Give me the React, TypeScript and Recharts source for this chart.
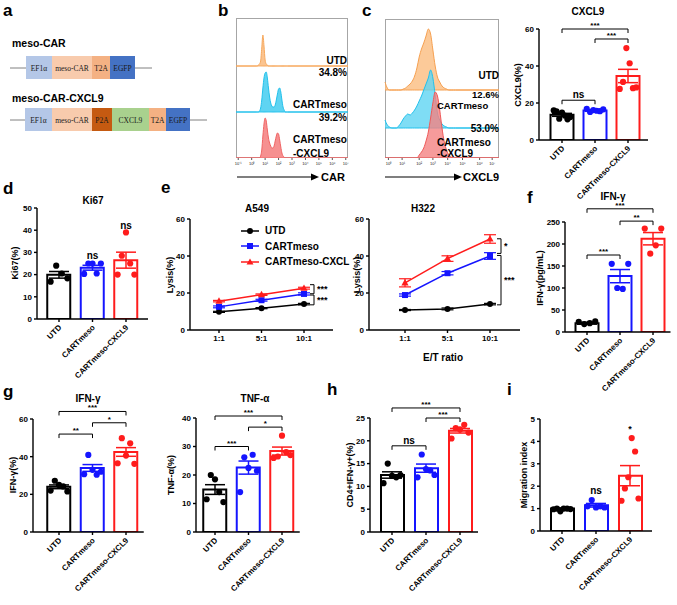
import React from 'react'
import {
  ComposedChart, Bar, Cell, Scatter, ErrorBar, XAxis, YAxis, ReferenceLine, ReferenceDot,
  LineChart, Line, AreaChart, Area, Legend,
} from 'recharts'

const FONT = '"Liberation Sans", Arial, Helvetica, sans-serif'
const SERIF = '"Liberation Serif", "Times New Roman", serif'
const INK = '#000'

const groups = ['UTD', 'CARTmeso', 'CARTmeso-CXCL9']
const groupColors = ['#000000', '#1515ff', '#ff1c1c']

// c (right): CXCL9 %
const cxcl9Mean = [13.6, 15.9, 34.6]
const cxcl9Sem = [0.8, 0.4, 3.6]
const cxcl9Dots = [
  [16, 15.5, 11.5, 14.8, 13.2, 11.2, 12.4],
  [16.8, 15.2, 16.2, 15.8, 15.6, 16.6],
  [27.6, 31.4, 49.7, 41.5, 28, 28.4],
]
const cxcl9Brackets = [
  { a: 0, b: 1, y: 21.5, text: 'ns' },
  { a: 1, b: 2, y: 54.6, text: '***' },
  { a: 0, b: 2, y: 60, text: '***' },
]

// d: Ki67
const ki67Mean = [19.9, 23.1, 26.5]
const ki67Sem = [1.5, 1.1, 3.6]
const ki67Dots = [
  [16.8, 24, 20.5, 18.3],
  [20.3, 25, 25, 20.5, 25],
  [20, 28.5, 39, 25, 20],
]
const ki67Notes = [
  { g: 1, y: 28.8, text: 'ns' },
  { g: 2, y: 42.3, text: 'ns' },
]

// e: lysis
const ratios = ['1:1', '5:1', '10:1']
const a549Utd = [9.8, 11.8, 14]
const a549Cart = [12.5, 16.1, 19.5]
const a549Cxcl = [15.6, 19.1, 22.6]
const a549UtdErr = [0.3, 0.3, 0.4]
const a549CartErr = [0.5, 0.5, 0.6]
const a549CxclErr = [0.4, 0.4, 0.5]
const a549Brackets = [
  { y1: 24.5, y2: 19.6, text: '***' },
  { y1: 18.9, y2: 13.6, text: '***' },
]
const h322Utd = [10.8, 11.4, 14]
const h322Cart = [18.9, 30.7, 40]
const h322Cxcl = [25.5, 38.6, 49.2]
const h322UtdErr = [0.3, 0.5, 0.4]
const h322CartErr = [0.6, 0.9, 1.8]
const h322CxclErr = [2.2, 1.5, 2.3]
const h322Brackets = [
  { y1: 49.3, y2: 41.4, text: '*' },
  { y1: 40.3, y2: 13.6, text: '***' },
]

// f: IFN-γ pg/mL
const ifnPgMean = [20, 127, 212]
const ifnPgSem = [2, 15, 14]
const ifnPgDots = [
  [23, 18, 20, 24],
  [155, 100, 98, 155],
  [235, 178, 197, 235],
]
const ifnPgBrackets = [
  { a: 0, b: 1, y: 175, text: '***' },
  { a: 1, b: 2, y: 252, text: '**' },
  { a: 0, b: 2, y: 280, text: '***' },
]

// g: IFN-γ %, TNF-α %
const ifnPctMean = [24, 34, 42.5]
const ifnPctSem = [1, 1.8, 2.3]
const ifnPctDots = [
  [22, 27.2, 25, 24.2, 21.5],
  [30.7, 40.9, 33, 30.4, 32],
  [36.5, 49.8, 40.6, 47.1, 36.2],
]
const ifnPctBrackets = [
  { a: 0, b: 1, y: 52, text: '**' },
  { a: 1, b: 2, y: 58, text: '*' },
  { a: 0, b: 2, y: 64, text: '***' },
]
const tnfMean = [14.9, 22.6, 28.4]
const tnfSem = [1.7, 2.3, 1.4]
const tnfDots = [
  [11.5, 20, 18.5, 14, 10.5],
  [14, 26.2, 22.5, 27.1, 21.5],
  [26, 26.5, 33.8, 28, 27],
]
const tnfBrackets = [
  { a: 0, b: 1, y: 30, text: '***' },
  { a: 1, b: 2, y: 36.8, text: '*' },
  { a: 0, b: 2, y: 40.7, text: '***' },
]

// h: CD4+IFN-γ+
const cd4Mean = [12.5, 14, 22.2]
const cd4Sem = [0.7, 0.9, 0.5]
const cd4Dots = [
  [10.7, 15, 12.3, 12, 12.5],
  [12, 17, 13.8, 13.5, 12.5],
  [20.5, 22.8, 22.5, 23.5, 21.8],
]
const cd4Brackets = [
  { a: 0, b: 1, y: 18.9, text: 'ns' },
  { a: 1, b: 2, y: 25, text: '***' },
  { a: 0, b: 2, y: 27.2, text: '***' },
]

// i: migration
const migMean = [1.0, 1.15, 2.47]
const migSem = [0.03, 0.08, 0.45]
const migDots = [
  [0.97, 1.0, 0.88, 1.0, 1.0, 0.98],
  [1.1, 1.38, 1.05, 1.1, 1.05],
  [1.35, 1.9, 2.4, 4.15, 3.55, 1.45],
]
const migNotes = [
  { g: 1, y: 1.83, text: 'ns' },
  { g: 2, y: 4.55, text: '*' },
]

// b: CAR histograms (row heights per bin)
const carBins = [0, 0.18, 0.19, 0.2, 0.21, 0.22, 0.23, 0.24, 0.25, 0.26, 0.27, 0.28, 0.29, 0.3, 0.31, 0.32,
  0.33, 0.34, 0.35, 0.36, 0.37, 0.38, 0.39, 0.4, 0.41, 0.42, 0.43, 0.44, 0.45, 0.46, 1]
const carUtd = [0, 0, 0, 1, 2, 5, 18, 31, 20, 6, 2, 1, 0, 0, 0, 0, 0, 0, 0, 0, 0, 0, 0, 0, 0, 0, 0, 0, 0, 0, 0]
const carCart = [0, 0, 0, 0, 1, 4, 12, 24, 34, 39, 40, 34, 24, 15, 9, 6, 5, 5, 7, 12, 18, 23, 24, 20, 12, 5, 2, 0, 0, 0, 0]
const carCxcl = [0, 0, 0, 0, 0, 2, 8, 22, 34, 40, 37, 28, 20, 15, 12, 10, 10, 12, 17, 22, 25, 24, 18, 11, 5, 2, 1, 0, 0, 0, 0]
const carTicks = [0.02, 0.14, 0.26, 0.38, 0.5, 0.62, 0.74, 0.86, 0.98]
const carTickLabels = ['10⁻¹', '10⁰', '10¹', '10²', '10³', '10⁴', '10⁵', '10⁶', '10⁷']

// c: CXCL9 histograms
const cxBins = [0, 0.02, 0.04, 0.06, 0.08, 0.1, 0.12, 0.14, 0.16, 0.18, 0.2, 0.22, 0.24, 0.26, 0.28, 0.3, 0.32,
  0.34, 0.36, 0.38, 0.4, 0.42, 0.44, 0.46, 0.48, 0.5, 0.52, 0.54, 0.56, 0.58, 0.6, 0.62, 0.64, 1]
const cxUtd = [8, 2, 0, 0, 0, 0, 0, 0, 1, 2, 4, 6, 9, 14, 22, 33, 41, 47, 54, 61, 56, 40, 24, 13, 8, 4, 2, 1, 0, 0, 0, 0, 0, 0]
const cxCart = [8, 3, 1, 0, 0, 0, 2, 5, 9, 12, 14, 13, 15, 18, 22, 27, 32, 38, 44, 50, 58, 50, 33, 15, 8, 4, 2, 1, 0, 0, 0, 0, 0, 0]
const cxCxcl = [0, 0, 0, 0, 0, 0, 0, 0, 0, 0, 0, 0, 0, 0, 0, 3, 6, 10, 17, 26, 40, 55, 66, 62, 48, 30, 16, 8, 3, 1, 0, 0, 0, 0]
const cxTicks = [0.03, 0.15, 0.3, 0.42, 0.55, 0.68, 0.83, 0.94]
const cxTickLabels = ['10⁰', '10¹', '10²', '10³', '10⁴', '10⁵', '10⁶', '10⁷']

// a: constructs
const construct1 = [
  { name: 'EF1α', w: 26, fill: '#b4c7e7' },
  { name: 'meso-CAR', w: 40, fill: '#f8cbad' },
  { name: 'T2A', w: 18, fill: '#f4b183' },
  { name: 'EGFP', w: 25, fill: '#4472c4' },
]
const construct2 = [
  { name: 'EF1α', w: 27, fill: '#b4c7e7' },
  { name: 'meso-CAR', w: 40, fill: '#f8cbad' },
  { name: 'P2A', w: 20, fill: '#c55a11' },
  { name: 'CXCL9', w: 37, fill: '#a9d18e' },
  { name: 'T2A', w: 17, fill: '#f4b183' },
  { name: 'EGFP', w: 24, fill: '#4472c4' },
]

const spread = (k: number, n: number) => (n < 2 ? 0 : (k / (n - 1) - 0.5) * 0.5)

const axisStyle = { stroke: INK, strokeWidth: 1.4 }
const tickFont = { fontSize: 8, fontWeight: 700, fill: INK, fontFamily: FONT }

const RotTick = (t: any) => {
  const ax = t.x + 3
  const ay = t.y + 4
  return (
    <text x={ax} y={ay} textAnchor="end" fontSize={8} fontWeight={700} fontFamily={FONT} fill={INK}
      transform={`rotate(-45 ${ax} ${ay})`}>{t.payload.value}</text>
  )
}

type Bracket = { a: number; b: number; y: number; text: string }
type Note = { g: number; y: number; text: string }

interface DotBarProps {
  left: number; top: number; axisX: number; xEnd: number; c0: number; c2: number
  y0: number; yTop: number; yMax: number; ticks: number[]
  means: number[]; sems: number[]; dots: number[][]
  brackets?: Bracket[]; notes?: Note[]
}

function DotBarPanel(p: DotBarProps) {
  const yw = 24
  const xh = 22
  const band = (p.c2 - p.c0) / 2
  const xEnd = Math.max(p.xEnd, p.c2 + band / 2 + 1)
  const padL = p.c0 - band / 2 - p.axisX
  const padR = xEnd - (p.c2 + band / 2)
  const W = xEnd + 12 - p.left
  const H = p.y0 + xh - p.top
  const margin = { top: p.yTop - p.top, right: 12, bottom: 0, left: p.axisX - p.left - yw }
  const tickLen = (4 * p.yMax) / (p.y0 - p.yTop)
  const rows = groups.map((name, i) => ({ name, mean: p.means[i] }))

  return (
    <div style={{ position: 'absolute', left: p.left, top: p.top }}>
      <ComposedChart width={W} height={H} data={rows} margin={margin}>
        <XAxis xAxisId="c" dataKey="name" type="category" padding={{ left: padL, right: padR }} height={xh}
          axisLine={axisStyle} tickLine={axisStyle} tickSize={3} tick={<RotTick />} interval={0} />
        <XAxis xAxisId="n" dataKey="x" type="number" domain={[-0.5, 2.5]} padding={{ left: padL, right: padR }}
          hide allowDataOverflow />
        <YAxis width={yw} domain={[0, p.yMax]} ticks={p.ticks} interval={0} allowDataOverflow
          axisLine={axisStyle} tickLine={axisStyle} tickSize={3} tick={tickFont} />
        <Bar xAxisId="c" dataKey="mean" barSize={23} isAnimationActive={false}>
          {rows.map((r, i) => <Cell key={r.name} fill="#fff" stroke={groupColors[i]} strokeWidth={2} />)}
        </Bar>
        {groups.map((g, i) => (
          <Scatter key={'e' + g} xAxisId="n" dataKey="y" isAnimationActive={false}
            data={[{ x: i, y: p.means[i], e: p.sems[i] }]} shape={() => <g />}>
            <ErrorBar dataKey="e" direction="y" width={10} stroke={groupColors[i]} strokeWidth={1.5} />
          </Scatter>
        ))}
        {groups.map((g, i) => (
          <Scatter key={'d' + g} xAxisId="n" dataKey="y" isAnimationActive={false}
            data={p.dots[i].map((v, k, arr) => ({ x: i + spread(k, arr.length), y: v }))}
            shape={(s: any) => <circle cx={s.cx} cy={s.cy} r={3.1} fill={groupColors[i]} />} />
        ))}
        {(p.brackets ?? []).flatMap((b, j) => {
          const ns = b.text === 'ns'
          return [
            <ReferenceLine key={`h${j}`} xAxisId="n" ifOverflow="visible" stroke={INK} strokeWidth={1}
              segment={[{ x: b.a, y: b.y }, { x: b.b, y: b.y }]}
              label={{ value: b.text, position: 'top', offset: ns ? 2 : 1, fontSize: ns ? 10 : 8,
                fontWeight: 700, fill: INK, fontFamily: FONT }} />,
            <ReferenceLine key={`l${j}`} xAxisId="n" ifOverflow="visible" stroke={INK} strokeWidth={1}
              segment={[{ x: b.a, y: b.y }, { x: b.a, y: b.y - tickLen }]} />,
            <ReferenceLine key={`r${j}`} xAxisId="n" ifOverflow="visible" stroke={INK} strokeWidth={1}
              segment={[{ x: b.b, y: b.y }, { x: b.b, y: b.y - tickLen }]} />,
          ]
        })}
        {(p.notes ?? []).map((n, j) => (
          <ReferenceDot key={`n${j}`} xAxisId="n" x={n.g} y={n.y} r={0} ifOverflow="visible" stroke="none"
            label={{ value: n.text, position: 'center', fontSize: n.text === 'ns' ? 10 : 9, fontWeight: 700,
              fill: INK, fontFamily: FONT }} />
        ))}
      </ComposedChart>
    </div>
  )
}

const circleDot = (c: string) => (s: any) => <circle key={s.index} cx={s.cx} cy={s.cy} r={3} fill={c} />
const squareDot = (c: string) => (s: any) => (
  <rect key={s.index} x={s.cx - 3} y={s.cy - 3} width={6} height={6} fill={c} />
)
const triDot = (c: string) => (s: any) => (
  <path key={s.index} d={`M${s.cx},${s.cy - 3.8}L${s.cx + 3.6},${s.cy + 2.6}L${s.cx - 3.6},${s.cy + 2.6}Z`} fill={c} />
)

const legendItems = [
  { label: 'UTD', color: groupColors[0], shape: 'c' },
  { label: 'CARTmeso', color: groupColors[1], shape: 's' },
  { label: 'CARTmeso-CXCL', color: groupColors[2], shape: 't' },
]

const LysisLegend = () => (
  <div style={{ fontFamily: FONT, fontSize: 10, fontWeight: 700 }}>
    {legendItems.map((it) => (
      <div key={it.label} style={{ display: 'flex', alignItems: 'center', height: 15.5 }}>
        <svg width={18} height={10} style={{ marginRight: 6 }}>
          <line x1={0} y1={5} x2={18} y2={5} stroke={it.color} strokeWidth={1.5} />
          {it.shape === 'c' && <circle cx={9} cy={5} r={3} fill={it.color} />}
          {it.shape === 's' && <rect x={6} y={2} width={6} height={6} fill={it.color} />}
          {it.shape === 't' && <path d="M9,1.5L12.5,7.5L5.5,7.5Z" fill={it.color} />}
        </svg>
        <span>{it.label}</span>
      </div>
    ))}
  </div>
)

interface LysisProps {
  left: number; top: number; axisX: number; xEnd: number; x0: number; x2: number
  y0: number; yTop: number; bracketX: number
  utd: number[]; cart: number[]; cxcl: number[]; eu: number[]; ec: number[]; ex: number[]
  brackets: { y1: number; y2: number; text: string }[]
  legend?: boolean
}

function LysisPanel(p: LysisProps) {
  const yw = 24
  const xh = 22
  const unitPx = (p.x2 - p.x0) / 2
  const xMin = (p.axisX - p.x0) / unitPx
  const xMax = 2 + (p.xEnd - p.x2) / unitPx
  const bx = 2 + (p.bracketX - p.x2) / unitPx
  const bt = bx - 4 / unitPx
  const W = p.xEnd + 40 - p.left
  const H = p.y0 + xh - p.top
  const margin = { top: p.yTop - p.top, right: 40, bottom: 0, left: p.axisX - p.left - yw }
  const rows = ratios.map((r, i) => ({
    i, utd: p.utd[i], cart: p.cart[i], cxcl: p.cxcl[i], eu: p.eu[i], ec: p.ec[i], ex: p.ex[i],
  }))
  return (
    <div style={{ position: 'absolute', left: p.left, top: p.top }}>
      <LineChart width={W} height={H} data={rows} margin={margin}>
        <XAxis dataKey="i" type="number" domain={[xMin, xMax]} ticks={[0, 1, 2]} allowDataOverflow
          tickFormatter={(v: number) => ratios[v]} height={xh} axisLine={axisStyle} tickLine={axisStyle}
          tickSize={3} tick={tickFont} interval={0} />
        <YAxis width={yw} domain={[0, 60]} ticks={[0, 20, 40, 60]} interval={0} allowDataOverflow
          axisLine={axisStyle} tickLine={axisStyle} tickSize={3} tick={tickFont} />
        <Line dataKey="utd" stroke={groupColors[0]} strokeWidth={1.5} dot={circleDot(groupColors[0])}
          isAnimationActive={false}>
          <ErrorBar dataKey="eu" direction="y" width={6} stroke={groupColors[0]} strokeWidth={1.2} />
        </Line>
        <Line dataKey="cart" stroke={groupColors[1]} strokeWidth={1.5} dot={squareDot(groupColors[1])}
          isAnimationActive={false}>
          <ErrorBar dataKey="ec" direction="y" width={6} stroke={groupColors[1]} strokeWidth={1.2} />
        </Line>
        <Line dataKey="cxcl" stroke={groupColors[2]} strokeWidth={1.5} dot={triDot(groupColors[2])}
          isAnimationActive={false}>
          <ErrorBar dataKey="ex" direction="y" width={6} stroke={groupColors[2]} strokeWidth={1.2} />
        </Line>
        {p.brackets.flatMap((b, j) => [
          <ReferenceLine key={`v${j}`} ifOverflow="visible" stroke={INK} strokeWidth={1}
            segment={[{ x: bx, y: b.y1 }, { x: bx, y: b.y2 }]}
            label={{ value: b.text, position: 'right', offset: 3, fontSize: 9, fontWeight: 700, fill: INK,
              fontFamily: FONT }} />,
          <ReferenceLine key={`t${j}`} ifOverflow="visible" stroke={INK} strokeWidth={1}
            segment={[{ x: bt, y: b.y1 }, { x: bx, y: b.y1 }]} />,
          <ReferenceLine key={`b${j}`} ifOverflow="visible" stroke={INK} strokeWidth={1}
            segment={[{ x: bt, y: b.y2 }, { x: bx, y: b.y2 }]} />,
        ])}
        {p.legend && (
          <Legend layout="vertical" align="center" verticalAlign="middle" content={<LysisLegend />}
            wrapperStyle={{ left: 91, top: 23, width: 'auto', height: 'auto' }} />
        )}
      </LineChart>
    </div>
  )
}

interface HistSeries { key: string; base: number; h: number[]; fill: string; stroke: string }
interface HistProps {
  left: number; top: number; width: number; height: number; yMax: number
  bins: number[]; series: HistSeries[]; ticks: number[]; tickLabels: string[]; opacity: number
}

function HistPanel(p: HistProps) {
  const xh = 10
  const rows = p.bins.map((x, i) => {
    const r: any = { x }
    p.series.forEach((s) => { r[s.key] = [s.base, s.base + s.h[i]] })
    return r
  })
  return (
    <div style={{ position: 'absolute', left: p.left, top: p.top }}>
      <div style={{ position: 'absolute', left: 0, top: 0, width: p.width, height: p.height,
        boxSizing: 'border-box', border: '1px solid #a6a6a6' }} />
      <AreaChart width={p.width} height={p.height + xh} data={rows} margin={{ top: 0, right: 0, bottom: 0, left: 0 }}>
        <XAxis dataKey="x" type="number" domain={[0, 1]} ticks={p.ticks} interval={0} height={xh}
          tickFormatter={(v: number, i: number) => p.tickLabels[i]} axisLine={false}
          tickLine={{ stroke: '#555' }} tickSize={2} tick={{ fontSize: 4, fill: '#222', fontFamily: FONT }} />
        <YAxis hide domain={[0, p.yMax]} allowDataOverflow />
        {p.series.map((s) => (
          <Area key={s.key} dataKey={s.key} type="monotone" fill={s.fill} fillOpacity={p.opacity}
            stroke={s.stroke} strokeWidth={1} dot={false} activeDot={false} isAnimationActive={false} />
        ))}
      </AreaChart>
    </div>
  )
}

const T = (props: any) => (
  <text fontFamily={FONT} fontWeight={700} fill={INK} dominantBaseline="central" {...props} />
)
const YLab = ({ x, y, children }: { x: number; y: number; children: React.ReactNode }) => (
  <T x={x} y={y} fontSize={9} textAnchor="middle" transform={`rotate(-90 ${x} ${y})`}>{children}</T>
)

function Construct({ x, y, parts }: { x: number; y: number; parts: { name: string; w: number; fill: string }[] }) {
  let cx = x
  return (
    <g>
      {parts.map((s) => {
        const sx = cx
        cx += s.w
        return (
          <g key={s.name}>
            <rect x={sx} y={y} width={s.w} height={23} fill={s.fill} />
            <text x={sx + s.w / 2} y={y + 12} textAnchor="middle" dominantBaseline="central" fontFamily={SERIF}
              fontSize={7.5} fill="#1a1a1a">{s.name}</text>
          </g>
        )
      })}
    </g>
  )
}

export default function App() {
  return (
    <div style={{ position: 'relative', width: 677, height: 605, background: '#fff', overflow: 'hidden' }}>
      <style>{'body{margin:0} .recharts-surface{overflow:visible} .recharts-wrapper{overflow:visible}'}</style>

      <HistPanel left={236} top={18} width={112} height={140} yMax={140} bins={carBins} opacity={1}
        ticks={carTicks} tickLabels={carTickLabels}
        series={[
          { key: 'utd', base: 92, h: carUtd, fill: '#fbc490', stroke: '#f7a85c' },
          { key: 'cart', base: 46, h: carCart, fill: '#5fd4f2', stroke: '#22c1ec' },
          { key: 'cxcl', base: 0, h: carCxcl, fill: '#f69090', stroke: '#f06464' },
        ]} />
      <HistPanel left={385} top={19} width={114} height={139} yMax={139} bins={cxBins} opacity={0.8}
        ticks={cxTicks} tickLabels={cxTickLabels}
        series={[
          { key: 'utd', base: 68, h: cxUtd, fill: '#fbbd80', stroke: '#f6a050' },
          { key: 'cart', base: 30, h: cxCart, fill: '#5fd4f2', stroke: '#22c1ec' },
          { key: 'cxcl', base: 0, h: cxCxcl, fill: '#f48282', stroke: '#ef5a5a' },
        ]} />

      <DotBarPanel left={490} top={0} axisX={539} xEnd={648} c0={562} c2={628} y0={140} yTop={29}
        yMax={60} ticks={[0, 20, 40, 60]} means={cxcl9Mean} sems={cxcl9Sem} dots={cxcl9Dots}
        brackets={cxcl9Brackets} />
      <DotBarPanel left={0} top={180} axisX={37} xEnd={148} c0={59} c2={126} y0={319} yTop={208}
        yMax={50} ticks={[0, 10, 20, 30, 40, 50]} means={ki67Mean} sems={ki67Sem} dots={ki67Dots}
        notes={ki67Notes} />
      <LysisPanel left={150} top={200} axisX={190} xEnd={333} x0={219} x2={304} y0={330} yTop={219}
        bracketX={314} utd={a549Utd} cart={a549Cart} cxcl={a549Cxcl} eu={a549UtdErr} ec={a549CartErr}
        ex={a549CxclErr} brackets={a549Brackets} legend />
      <LysisPanel left={330} top={200} axisX={369} xEnd={520} x0={405} x2={490} y0={330} yTop={219}
        bracketX={501} utd={h322Utd} cart={h322Cart} cxcl={h322Cxcl} eu={h322UtdErr} ec={h322CartErr}
        ex={h322CxclErr} brackets={h322Brackets} />
      <DotBarPanel left={520} top={180} axisX={565} xEnd={667} c0={587} c2={653} y0={332} yTop={222}
        yMax={250} ticks={[0, 50, 100, 150, 200, 250]} means={ifnPgMean} sems={ifnPgSem} dots={ifnPgDots}
        brackets={ifnPgBrackets} />
      <DotBarPanel left={0} top={390} axisX={33} xEnd={139} c0={59} c2={126} y0={532} yTop={419}
        yMax={60} ticks={[0, 20, 40, 60]} means={ifnPctMean} sems={ifnPctSem} dots={ifnPctDots}
        brackets={ifnPctBrackets} />
      <DotBarPanel left={160} top={390} axisX={196} xEnd={297} c0={215} c2={282} y0={532} yTop={418}
        yMax={40} ticks={[0, 10, 20, 30, 40]} means={tnfMean} sems={tnfSem} dots={tnfDots}
        brackets={tnfBrackets} />
      <DotBarPanel left={330} top={390} axisX={370} xEnd={471} c0={392} c2={460} y0={532} yTop={418}
        yMax={25} ticks={[0, 5, 10, 15, 20, 25]} means={cd4Mean} sems={cd4Sem} dots={cd4Dots}
        brackets={cd4Brackets} />
      <DotBarPanel left={500} top={390} axisX={540} xEnd={652} c0={562} c2={630} y0={531} yTop={419}
        yMax={5} ticks={[0, 1, 2, 3, 4, 5]} means={migMean} sems={migSem} dots={migDots}
        notes={migNotes} />

      <svg width={677} height={605} style={{ position: 'absolute', left: 0, top: 0, pointerEvents: 'none' }}>
        {/* panel letters */}
        {[['a', 3, 16], ['b', 218, 16], ['c', 362, 16], ['d', 3, 194], ['e', 161, 193], ['f', 527, 203],
          ['g', 3, 397], ['h', 327, 395], ['i', 507, 395]].map(([l, x, y]) => (
          <text key={l as string} x={x as number} y={y as number} fontFamily={FONT} fontWeight={700}
            fontSize={17} fill={INK}>{l}</text>
        ))}

        {/* a: constructs */}
        <T x={12} y={43} fontSize={10.5}>meso-CAR</T>
        <line x1={10} y1={68} x2={152} y2={68} stroke="#808080" strokeWidth={1} />
        <Construct x={26} y={56} parts={construct1} />
        <T x={12} y={98} fontSize={10.5}>meso-CAR-CXCL9</T>
        <line x1={10} y1={120} x2={207} y2={120} stroke="#808080" strokeWidth={1} />
        <Construct x={25} y={108} parts={construct2} />

        {/* b labels */}
        <T x={347} y={60} fontSize={10} textAnchor="end">UTD</T>
        <T x={347} y={72} fontSize={10} textAnchor="end">34.8%</T>
        <T x={293} y={104} fontSize={10}>CARTmeso</T>
        <T x={347} y={117} fontSize={10} textAnchor="end">39.2%</T>
        <T x={293} y={139} fontSize={10}>CARTmeso</T>
        <T x={293} y={153} fontSize={10}>-CXCL9</T>
        <line x1={237} y1={177} x2={312} y2={177} stroke={INK} strokeWidth={1.2} />
        <path d="M311,173.5L319,177L311,180.5Z" fill={INK} />
        <T x={321} y={177} fontSize={11}>CAR</T>

        {/* c labels */}
        <T x={499} y={75} fontSize={10} textAnchor="end">UTD</T>
        <T x={499} y={94.5} fontSize={9.5} textAnchor="end">12.6%</T>
        <T x={437} y={105} fontSize={9.5}>CARTmeso</T>
        <T x={499} y={128} fontSize={10} textAnchor="end">53.0%</T>
        <T x={437} y={142} fontSize={10}>CARTmeso</T>
        <T x={437} y={153} fontSize={10}>-CXCL9</T>
        <line x1={385} y1={177} x2={455} y2={177} stroke={INK} strokeWidth={1.2} />
        <path d="M454,173.5L462,177L454,180.5Z" fill={INK} />
        <T x={463} y={177} fontSize={11}>CXCL9</T>

        {/* titles */}
        <T x={588} y={11} fontSize={10} textAnchor="middle">CXCL9</T>
        <T x={93} y={200} fontSize={10} textAnchor="middle">Ki67</T>
        <T x={257} y={208} fontSize={10} textAnchor="middle">A549</T>
        <T x={423} y={208} fontSize={10} textAnchor="middle">H322</T>
        <T x={613} y={196} fontSize={10} textAnchor="middle">IFN-γ</T>
        <T x={88} y={398} fontSize={10} textAnchor="middle">IFN-γ</T>
        <T x={255} y={398} fontSize={10} textAnchor="middle">TNF-α</T>
        <T x={443} y={357} fontSize={10} textAnchor="middle">E/T ratio</T>

        {/* y labels */}
        <YLab x={518} y={85}>CXCL9(%)</YLab>
        <YLab x={15} y={263}>Ki67(%)</YLab>
        <YLab x={170} y={275}>Lysis(%)</YLab>
        <YLab x={357} y={275}>Lysis(%)</YLab>
        <YLab x={540} y={278}>IFN-γ(pg/mL)</YLab>
        <YLab x={13} y={475}>IFN-γ(%)</YLab>
        <YLab x={171} y={475}>TNF-α(%)</YLab>
        <YLab x={350} y={475}>CD4+IFN-γ+(%)</YLab>
        <YLab x={524} y={475}>Migration index</YLab>
      </svg>
    </div>
  )
}
